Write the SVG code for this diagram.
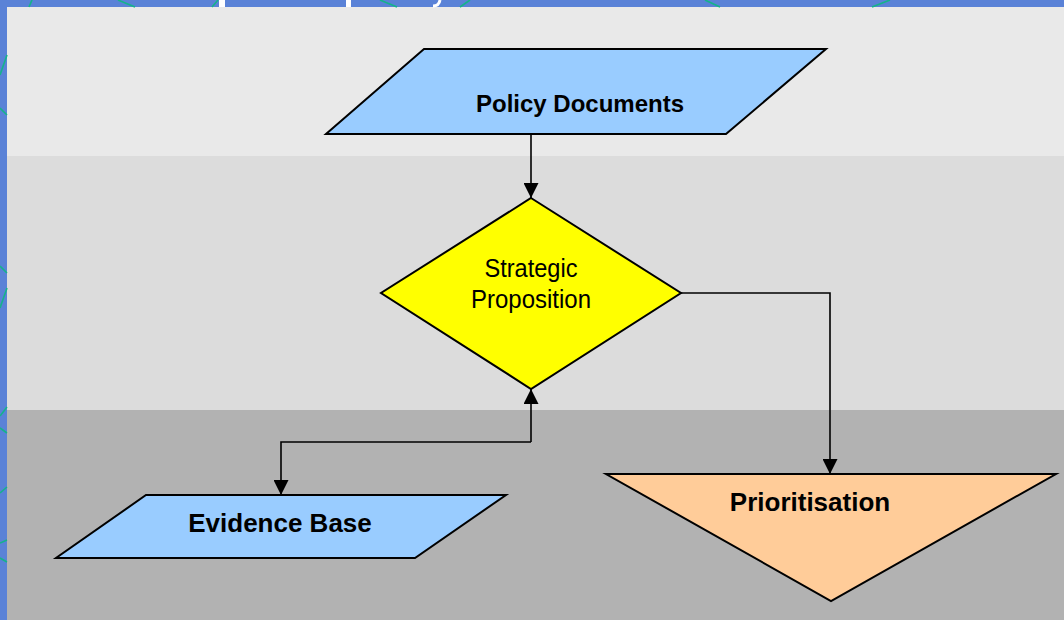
<svg xmlns="http://www.w3.org/2000/svg" width="1064" height="620" viewBox="0 0 1064 620">
<defs>
<style>
.shape{stroke:#000;stroke-width:2;stroke-linejoin:miter}
.conn{fill:none;stroke:#000;stroke-width:1.6}
.lbl{font-family:"Liberation Sans",Arial,sans-serif;fill:#000;text-anchor:middle}
.bold{font-weight:bold}
.deco{stroke:#14B48A;stroke-width:1.6;fill:none}
</style>
<marker id="arr" viewBox="0 0 15 15" refX="15" refY="7.5" markerWidth="15" markerHeight="15" markerUnits="userSpaceOnUse" orient="auto">
<path d="M0,0 L15,7.5 L0,15 Z" fill="#000"/>
</marker>
</defs>
<g id="background">
<rect x="0" y="0" width="1064" height="620" fill="#5A82D7"/>
<rect x="7" y="7" width="1057" height="149" fill="#E9E9E9"/>
<rect x="7" y="156" width="1057" height="254" fill="#DCDCDC"/>
<rect x="7" y="410" width="1057" height="210" fill="#B2B2B2"/>
<g class="deco">
<line x1="29" y1="7" x2="32" y2="0"/>
<line x1="118" y1="0" x2="135" y2="7"/>
<line x1="212" y1="7" x2="218" y2="0"/>
<line x1="380" y1="0" x2="397" y2="7"/>
<line x1="460" y1="7" x2="470" y2="0"/>
<line x1="705" y1="0" x2="720" y2="7"/>
<line x1="872" y1="7" x2="890" y2="0"/>
<line x1="7" y1="55" x2="0" y2="75"/>
<line x1="0" y1="108" x2="7" y2="115"/>
<line x1="0" y1="266" x2="7" y2="273"/>
<line x1="7" y1="288" x2="0" y2="308"/>
<line x1="7" y1="407" x2="0" y2="416"/>
<line x1="0" y1="428" x2="7" y2="433"/>
<line x1="7" y1="487" x2="0" y2="493"/>
<line x1="7" y1="540" x2="0" y2="543"/>
<line x1="0" y1="558" x2="7" y2="562"/>
</g>
<rect x="219" y="0" width="6" height="7" fill="#fff"/>
<rect x="346" y="0" width="5" height="7" fill="#fff"/>
<path d="M440,0 Q439,6 433,6" stroke="#fff" stroke-width="3" fill="none"/>
</g>
<g id="connectors">
<line class="conn" x1="531" y1="134" x2="531" y2="198" marker-end="url(#arr)"/>
<polyline class="conn" points="681,293 830,293 830,474" marker-end="url(#arr)"/>
<line class="conn" x1="531" y1="442" x2="531" y2="389" marker-end="url(#arr)"/>
<polyline class="conn" points="531,442 281,442 281,495" marker-end="url(#arr)"/>
</g>
<g id="policy-documents">
<polygon class="shape" points="424,49 826,49 726,134 326,134" fill="#99CCFF"/>
<text class="lbl bold" x="580" y="112" font-size="24">Policy Documents</text>
</g>
<g id="strategic-proposition">
<polygon class="shape" points="531,198 681,293 531,389 381,293" fill="#FFFF00"/>
<text class="lbl" x="531" y="277" font-size="25" textLength="93" lengthAdjust="spacingAndGlyphs">Strategic</text>
<text class="lbl" x="531" y="308" font-size="25" textLength="120" lengthAdjust="spacingAndGlyphs">Proposition</text>
</g>
<g id="evidence-base">
<polygon class="shape" points="146,495 506,495 415,558 56,558" fill="#99CCFF"/>
<text class="lbl bold" x="280" y="532" font-size="26">Evidence Base</text>
</g>
<g id="prioritisation">
<polygon class="shape" points="606,474 1056,474 831,601" fill="#FFCC99"/>
<text class="lbl bold" x="810" y="511" font-size="26">Prioritisation</text>
</g>
</svg>
